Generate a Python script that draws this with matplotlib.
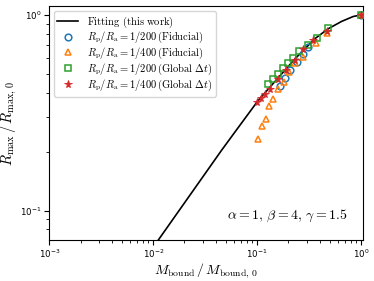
import matplotlib
matplotlib.use("Agg")
import matplotlib.pyplot as plt
from matplotlib.font_manager import FontProperties
from matplotlib.ticker import NullFormatter

# Fitting curve
fit_x = [0.0112, 0.0456, 0.0612, 0.1027, 0.232, 0.360, 0.484, 0.652, 0.843, 1.0]
fit_y = [0.0707, 0.2036, 0.252, 0.366, 0.597, 0.756, 0.850, 0.927, 0.982, 1.0]

# Rp/Ra = 1/200 (Fiducial)
fid200_x = [1.0, 0.311, 0.275, 0.240, 0.2075, 0.186, 0.166]
fid200_y = [1.0, 0.685, 0.634, 0.575, 0.525, 0.475, 0.432]

# Rp/Ra = 1/400 (Fiducial)
fid400_x = [1.0, 0.474, 0.370, 0.278, 0.232, 0.204, 0.182, 0.160, 0.143, 0.131, 0.121, 0.1107, 0.1025]
fid400_y = [1.0, 0.805, 0.715, 0.612, 0.566, 0.511, 0.453, 0.420, 0.371, 0.341, 0.295, 0.272, 0.231]

# Rp/Ra = 1/200 (Global dt)
glo200_x = [1.0, 0.484, 0.375, 0.307, 0.253, 0.224, 0.200, 0.179, 0.159, 0.143, 0.128]
glo200_y = [1.0, 0.856, 0.761, 0.699, 0.651, 0.604, 0.568, 0.538, 0.501, 0.473, 0.442]

# Rp/Ra = 1/400 (Global dt)
glo400_x = [1.0, 0.468, 0.348, 0.278, 0.230, 0.190, 0.160, 0.134, 0.119, 0.109, 0.099]
glo400_y = [1.0, 0.824, 0.741, 0.672, 0.590, 0.520, 0.472, 0.420, 0.396, 0.378, 0.359]

labels = [
    r'$\rm Fitting\ (this\ work)$',
    r'$R_{\rm p}/R_{\rm a}=1/200\,({\rm Fiducial})$',
    r'$R_{\rm p}/R_{\rm a}=1/400\,({\rm Fiducial})$',
    r'$R_{\rm p}/R_{\rm a}=1/200\,({\rm Global}\ \Delta t)$',
    r'$R_{\rm p}/R_{\rm a}=1/400\,({\rm Global}\ \Delta t)$',
]

fig = plt.figure(figsize=(3.74, 2.81), dpi=100)
ax = fig.add_axes([0.132, 0.146, 0.839, 0.831])

ax.plot(fit_x, fit_y, color='black', lw=1.2, label=labels[0], zorder=2)
ms = 4.8
ax.plot(fid200_x, fid200_y, ls='none', marker='o', ms=ms, mfc='none', mec='tab:blue', mew=1.1, label=labels[1], zorder=3)
ax.plot(fid400_x, fid400_y, ls='none', marker='^', ms=ms, mfc='none', mec='tab:orange', mew=1.1, label=labels[2], zorder=3)
ax.plot(glo200_x, glo200_y, ls='none', marker='s', ms=ms, mfc='none', mec='tab:green', mew=1.1, label=labels[3], zorder=3)
ax.plot(glo400_x, glo400_y, ls='none', marker='*', ms=ms+1.0, mfc='tab:red', mec='tab:red', mew=0.6, label=labels[4], zorder=4)

ax.set_xscale('log')
ax.set_yscale('log')
ax.set_xlim(1e-3, 1.05)
ax.set_ylim(0.0707, 1.105)
ax.yaxis.set_minor_formatter(NullFormatter())
ax.xaxis.set_minor_formatter(NullFormatter())
ax.tick_params(axis='both', which='major', labelsize=6.2, length=3.5, width=0.8, pad=2)
ax.tick_params(axis='both', which='minor', length=2, width=0.6)

ax.set_xlabel(r'$M_{\rm bound}\,/\,M_{\rm bound,\,0}$', fontsize=10, math_fontfamily='cm', labelpad=1)
ax.set_ylabel(r'$R_{\rm max}\,/\,R_{\rm max,\,0}$', fontsize=10.5, math_fontfamily='cm', labelpad=1)

ax.text(0.95, 0.105, r'$\alpha=1,\,\beta=4,\,\gamma=1.5$', transform=ax.transAxes,
        ha='right', va='center', fontsize=10, math_fontfamily='cm')

leg = ax.legend(loc='upper left', prop=FontProperties(size=7.6, math_fontfamily='cm'),
                frameon=True, handlelength=2.0, borderpad=0.35, labelspacing=0.05,
                handletextpad=0.8, borderaxespad=0.4)

fig.savefig('out.png', dpi=100)
